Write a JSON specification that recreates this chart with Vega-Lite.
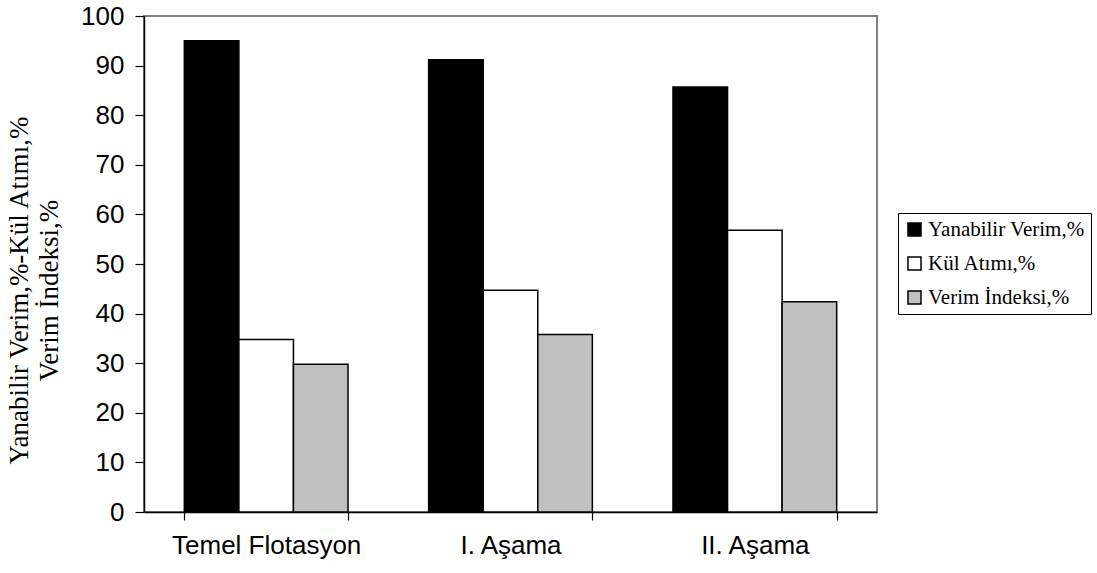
{
  "$schema": "https://vega.github.io/schema/vega-lite/v6.json",
  "autosize": "none",
  "width": 733,
  "height": 496,
  "padding": {"left": 144, "top": 16, "right": 220, "bottom": 61},
  "background": "white",
  "config": {
    "view": {"stroke": "#808080", "strokeWidth": 2},
    "axis": {"grid": false, "domainColor": "black", "tickColor": "black", "labelColor": "black", "labelFont": "Liberation Sans", "domainWidth": 1.5, "tickWidth": 1.2}
  },
  "data": {
    "values": [
      {"stage": "Temel Flotasyon", "series": "Yanabilir Verim,%", "value": 95.0},
      {"stage": "Temel Flotasyon", "series": "Kül Atımı,%", "value": 34.8},
      {"stage": "Temel Flotasyon", "series": "Verim İndeksi,%", "value": 29.8},
      {"stage": "I. Aşama", "series": "Yanabilir Verim,%", "value": 91.2},
      {"stage": "I. Aşama", "series": "Kül Atımı,%", "value": 44.7},
      {"stage": "I. Aşama", "series": "Verim İndeksi,%", "value": 35.8},
      {"stage": "II. Aşama", "series": "Yanabilir Verim,%", "value": 85.7},
      {"stage": "II. Aşama", "series": "Kül Atımı,%", "value": 56.8},
      {"stage": "II. Aşama", "series": "Verim İndeksi,%", "value": 42.4}
    ]
  },
  "mark": {"type": "bar", "stroke": "black", "strokeWidth": 1.5},
  "encoding": {
    "x": {
      "field": "stage", "type": "nominal", "sort": null,
      "scale": {"paddingInner": 0.33, "paddingOuter": 0.165},
      "axis": {"title": null, "labelAngle": 0, "labelFontSize": 26, "labelPadding": 12, "labelLimit": 400, "tickBand": "extent", "tickSize": 8}
    },
    "xOffset": {"field": "series", "type": "nominal", "sort": ["Yanabilir Verim,%", "Kül Atımı,%", "Verim İndeksi,%"], "scale": {"paddingInner": 0, "paddingOuter": 0}},
    "y": {
      "field": "value", "type": "quantitative",
      "scale": {"domain": [0, 100], "nice": false},
      "axis": {
        "values": [0, 10, 20, 30, 40, 50, 60, 70, 80, 90, 100],
        "labelFontSize": 26, "tickSize": 9, "labelPadding": 11,
        "title": ["Yanabilir Verim,%-Kül Atımı,%", "Verim İndeksi,%"],
        "titleFont": "Liberation Serif", "titleFontSize": 27, "titleFontWeight": "normal", "titleColor": "black",
        "titleAngle": -90, "titleX": -138, "titleY": 274, "titleBaseline": "top", "titleAlign": "center", "titleLineHeight": 30
      }
    },
    "fill": {
      "field": "series", "type": "nominal",
      "sort": ["Yanabilir Verim,%", "Kül Atımı,%", "Verim İndeksi,%"],
      "scale": {"domain": ["Yanabilir Verim,%", "Kül Atımı,%", "Verim İndeksi,%"], "range": ["#000000", "#ffffff", "#c0c0c0"]},
      "legend": {
        "title": null, "orient": "none", "legendX": 754, "legendY": 197,
        "labelFont": "Liberation Serif", "labelFontSize": 21, "labelColor": "black",
        "symbolType": "square", "symbolSize": 170, "symbolStrokeColor": "black", "symbolStrokeWidth": 1.5,
        "rowPadding": 12, "padding": 6, "strokeColor": "black", "fillColor": "white", "labelOffset": 3,
        "labelLimit": 300
      }
    }
  }
}
